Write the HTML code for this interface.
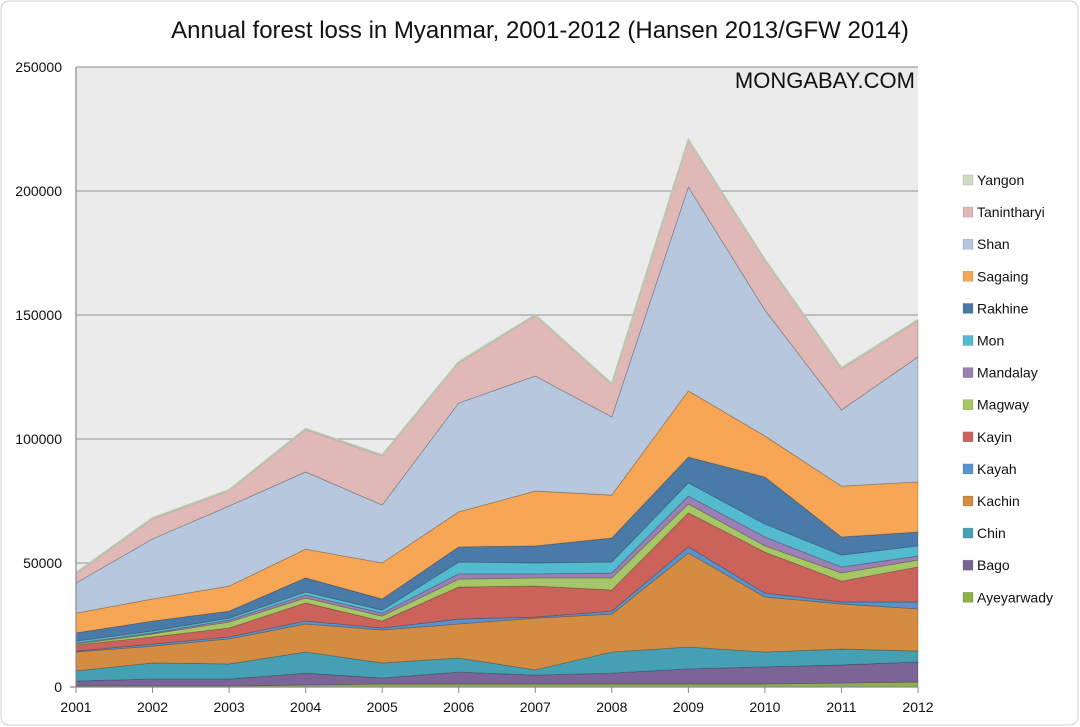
<!DOCTYPE html>
<html><head><meta charset="utf-8"><style>
body{margin:0;background:#fff;}
#wrap{position:relative;width:1080px;height:727px;overflow:hidden;background:#fff;font-family:"Liberation Sans",sans-serif;}
</style></head><body>
<div id="wrap">
<svg id="chart" width="1080" height="727">
<rect x="1" y="1" width="1077" height="724" rx="8" fill="#fff" stroke="#cfcfcf"/>
<text x="540" y="38" text-anchor="middle" font-size="24" fill="#111">Annual forest loss in Myanmar, 2001-2012 (Hansen 2013/GFW 2014)</text>
<rect x="76" y="67" width="842" height="620" fill="#ebebeb"/>
<g id="grid"></g>
<g id="areas"></g>
<g id="axes"></g>
<text x="915" y="88" text-anchor="end" font-size="22" fill="#111">MONGABAY.COM</text>
<g id="legend"></g>
</svg>
</div>
<script>
const years=["2001","2002","2003","2004","2005","2006","2007","2008","2009","2010","2011","2012"];
const yTicks=[0,50000,100000,150000,200000,250000];
const names=["Ayeyarwady","Bago","Chin","Kachin","Kayah","Kayin","Magway","Mandalay","Mon","Rakhine","Sagaing","Shan","Tanintharyi","Yangon"];
const colors=["#8db04a","#7b6496","#46a0b3","#d48c43","#5a93cc","#cc635a","#a7c665","#9b80b5","#54bad0","#4a7aa8","#f6a655","#b7c7de","#e0b8b6","#cfdcc3"];
const ayeyarwady=[0.4,0.4,0.4,0.8,1.2,1.2,1.2,1.2,1.2,1.2,1.6,2.0];
const bago=[2.0,2.8,2.8,4.8,2.4,4.8,3.6,4.4,6.1,6.9,7.3,8.1];
const chin=[4.1,6.5,6.1,8.5,6.1,5.7,2.1,8.5,8.8,6.0,6.4,4.4];
const kachin=[7.6,6.8,10.1,11.3,13.3,13.7,20.9,15.3,37.9,22.2,18.2,17.0];
const kayah=[0.4,0.8,0.8,1.2,0.8,2.0,0.4,1.2,2.5,1.6,0.8,2.8];
const kayin=[2.4,2.9,3.6,7.3,2.8,12.9,12.5,8.5,13.7,16.5,8.4,14.1];
const magway=[0.4,1.2,2.4,2.0,2.0,3.2,3.3,4.9,3.6,2.5,3.3,2.8];
const mandalay=[0.4,0.4,0.8,1.2,1.2,2.1,1.6,2.0,3.2,3.6,2.4,1.6];
const mon=[0.8,0.8,0.8,1.2,1.2,4.8,4.4,4.4,5.3,5.2,4.8,4.1];
const rakhine=[3.3,4.0,2.8,5.7,4.5,6.1,6.9,9.7,10.4,19.0,7.3,5.6];
const sagaing=[8.0,8.9,10.1,11.6,14.5,14.1,22.1,17.3,26.7,16.5,20.5,20.2];
const shan=[12.1,24.2,32.3,31.1,23.4,43.9,46.4,31.5,82.2,50.8,30.7,50.4];
const tanintharyi=[3.8,8.1,6.1,17.1,19.8,16.2,24.3,13.0,18.7,19.9,16.6,14.6];
const yangon=[0.3,0.3,0.3,0.3,0.3,0.3,0.3,0.3,0.3,0.3,0.3,0.3];
const series=[ayeyarwady,bago,chin,kachin,kayah,kayin,magway,mandalay,mon,rakhine,sagaing,shan,tanintharyi,yangon];

const NS="http://www.w3.org/2000/svg";
const x0=76,x1=918,yTop=67,yBot=687,yMax=250000;
const xs=i=>x0+(x1-x0)*i/(years.length-1);
const ys=v=>yBot-(yBot-yTop)*v/yMax;
function mk(t,a,p){const e=document.createElementNS(NS,t);for(const k in a)e.setAttribute(k,a[k]);p.appendChild(e);return e;}
const grid=document.getElementById('grid'),areas=document.getElementById('areas'),axes=document.getElementById('axes'),legend=document.getElementById('legend');
yTicks.forEach(t=>{
  if(t>0){const g=mk('line',{x1:x0,x2:x1,y1:ys(t),y2:ys(t),stroke:'#a3a3a3','stroke-width':1.2},grid);
  
  }
  const l=mk('text',{x:62,y:ys(t)+5,'text-anchor':'end','font-size':14,fill:'#111'},axes);
  l.textContent=t;
  
  
});
let cum=years.map(()=>0);
series.forEach((s,k)=>{
  const lower=cum.slice();
  cum=cum.map((c,i)=>c+s[i]*1000);
  let d='M'+years.map((_,i)=>xs(i)+','+ys(cum[i])).join(' L');
  for(let i=years.length-1;i>=0;i--)d+=' L'+xs(i)+','+ys(lower[i]);
  d+='Z';
  const p=mk('path',{d:d,fill:colors[k],stroke:'rgba(0,0,0,0.25)','stroke-width':0.8},areas);
  
  
});
const topLine=mk('polyline',{points:years.map((_,i)=>xs(i)+','+ys(cum[i])).join(' '),fill:'none',stroke:'#b9c8ae','stroke-width':2},areas);


const ya=mk('line',{x1:x0,x2:x0,y1:yTop,y2:yBot,stroke:'#8a8a8a','stroke-width':1.2},axes);


const xa=mk('line',{x1:x0-6,x2:x1,y1:yBot,y2:yBot,stroke:'#8a8a8a','stroke-width':1.2},axes);


years.forEach((y,i)=>{
  const tk=mk('line',{x1:xs(i),x2:xs(i),y1:yBot,y2:yBot+6,stroke:'#8a8a8a'},axes);
  
  
  const t=mk('text',{x:xs(i),y:712,'text-anchor':'middle','font-size':14,fill:'#111'},axes);
  t.textContent=y;
  
  
});
for(let k=names.length-1;k>=0;k--){
  const row=names.length-1-k;
  const yy=180+row*32.1;
  const g=mk('g',{},legend);
  
  
  mk('rect',{x:963,y:yy-5,width:10,height:10,fill:colors[k],stroke:'rgba(0,0,0,0.2)','stroke-width':0.6},g);
  const t=mk('text',{x:977,y:yy+5,'font-size':14,fill:'#111'},g);
  t.textContent=names[k];
}
</script>
</body></html>
